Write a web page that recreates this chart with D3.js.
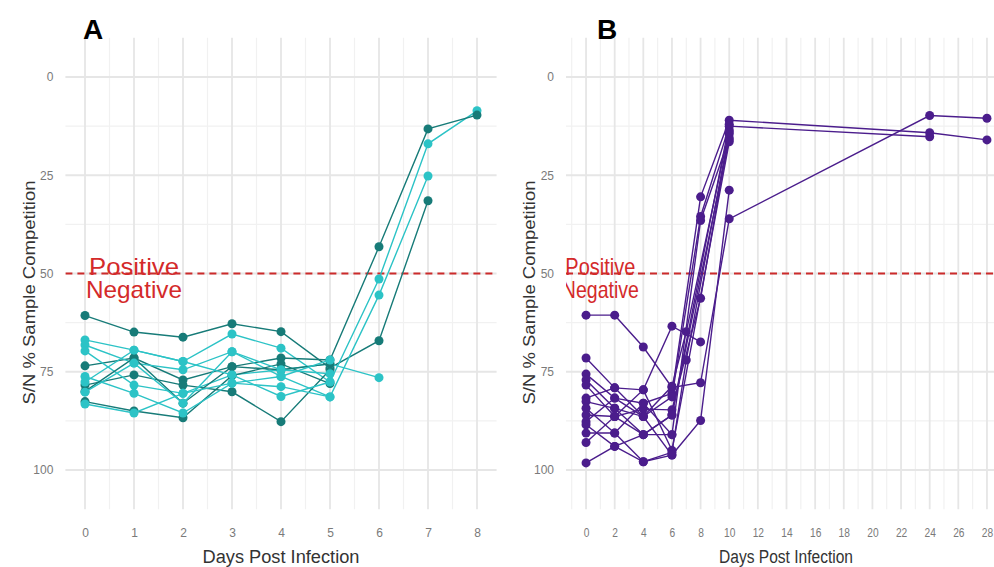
<!DOCTYPE html>
<html>
<head>
<meta charset="utf-8">
<script src="https://cdn.jsdelivr.net/npm/d3@7"></script>
<style>
  body { margin: 0; background: #fff; }
  text { font-family: "Liberation Sans", Arial, sans-serif; }
</style>
</head>
<body>
<div id="chart" style="width:994px;height:567px"></div>
<script>
/* global d3 */

// panel A: days 0..8, one row per animal (null = not sampled)
const daysA = [0, 1, 2, 3, 4, 5, 6, 7, 8];
const darkA = [
    [60.7, 64.9, 66.2, 62.8, 64.8, 74.0, 67.1, 31.5, null],
    [73.5, 71.5, 77.1, 73.7, 71.5, 72.0, 43.2, 13.2, 9.7],
    [78.4, 75.8, 78.4, 80.1, 87.7, 74.5, null, null, null],
    [82.6, 85.0, 86.7, 76.0, 73.0, 78.0, null, null, null],
    [80.0, 71.5, 83.0, 73.7, 74.5, 73.0, null, null, null]
];
const lightA = [
    [66.9, 69.5, 72.4, 65.4, 69.0, 77.6, 51.4, 17.0, 8.6],
    [68.2, 72.8, 74.5, 69.9, 76.2, 81.4, 55.5, 25.2, null],
    [69.7, 78.4, 80.5, 75.8, 74.5, 73.0, 76.5, null, null],
    [76.2, 80.5, 85.5, 77.9, 78.8, 81.4, null, null, null],
    [77.6, 69.5, 72.4, 75.8, 81.3, 77.6, null, null, null],
    [80.2, 72.8, 83.0, 69.9, 74.5, 75.5, null, null, null],
    [83.2, 85.5, 80.5, 77.9, 76.2, 72.0, null, null, null]
];

// panel B: sampling days up to 28
const daysB = [0, 2, 4, 6, 7, 8, 10, 24, 28];
const purpleB = [
    [60.6, 60.6, 68.7, 79.0, null, 77.8, 36.1, 9.8, 10.5],
    [71.5, 79.1, 79.6, 63.4, null, 67.4, null, null, null],
    [75.6, 81.7, 83.0, 80.5, null, 30.5, 11.0, 14.2, 16.0],
    [77.1, 84.3, 86.4, 81.4, null, 35.5, 12.5, 15.2, null],
    [78.4, 86.4, 84.5, 84.7, null, 56.3, 14.5, null, null],
    [81.7, 79.1, 86.4, 78.7, 64.8, null, 13.5, null, null],
    [82.6, 84.3, 91.0, 86.0, null, null, 16.0, null, null],
    [84.3, 90.6, 83.0, 91.0, null, 36.5, 15.5, null, null],
    [86.0, 86.4, 79.6, 95.0, null, null, 16.5, null, null],
    [87.7, 81.7, 86.4, 96.2, null, 87.4, 28.8, null, null],
    [88.5, 94.0, 91.0, 91.0, null, null, null, null, null],
    [90.6, 90.6, 97.9, 95.5, 72.0, null, 14.0, null, null],
    [93.0, 86.4, 91.0, 86.0, null, null, 12.0, null, null],
    [98.2, 94.0, 97.9, 96.2, null, null, null, null, null]
];

const yTicks = [0, 25, 50, 75, 100];
const xTicksA = [0, 1, 2, 3, 4, 5, 6, 7, 8];
const xTicksB = d3.range(0, 29, 2);
const cutoff = 50;

const svg = d3.select('#chart').append('svg')
    .attr('width', 994)
    .attr('height', 567)

let DrawPanel = function (opts) {
    this.opts = opts
    this.g = svg.append('g')
}

DrawPanel.prototype.layout = function (days, groups) {
    const o = this.opts
    const g = this.g

    const xScale = d3.scaleLinear()
        .domain(o.xDomain)
        .range(o.xRange);
    const yScale = d3.scaleLinear()   // reversed: 0 on top
        .domain([-10, 110])
        .range([37.7, 509.3]);

    const clipId = 'clip' + o.letter
    g.append('clipPath').attr('id', clipId)
        .append('rect')
        .attr('x', o.xRange[0]).attr('y', 0)
        .attr('width', o.xRange[1] - o.xRange[0]).attr('height', 567);

    // grid (minor first, then major)
    const grid = g.append('g').attr('class', 'grid');
    grid.selectAll('.vminor').data(o.xMinor).enter()
        .append('line')
        .attr('x1', d => xScale(d)).attr('x2', d => xScale(d))
        .attr('y1', yScale(-10)).attr('y2', yScale(110))
        .attr('stroke', '#f1f1f1').attr('stroke-width', 1.2);
    grid.selectAll('.hminor').data([12.5, 37.5, 62.5, 87.5]).enter()
        .append('line')
        .attr('x1', o.xRange[0]).attr('x2', o.xRange[1])
        .attr('y1', d => yScale(d)).attr('y2', d => yScale(d))
        .attr('stroke', '#f1f1f1').attr('stroke-width', 1.2);
    grid.selectAll('.vmajor').data(o.xTicks).enter()
        .append('line')
        .attr('x1', d => xScale(d)).attr('x2', d => xScale(d))
        .attr('y1', yScale(-10)).attr('y2', yScale(110))
        .attr('stroke', '#e6e6e6').attr('stroke-width', 1.8);
    grid.selectAll('.hmajor').data(yTicks).enter()
        .append('line')
        .attr('x1', o.xRange[0]).attr('x2', o.xRange[1])
        .attr('y1', d => yScale(d)).attr('y2', d => yScale(d))
        .attr('stroke', '#e6e6e6').attr('stroke-width', 1.8);

    // axes, ggplot style: labels only
    const xAxis = d3.axisBottom(xScale)
        .tickValues(o.xTicks)
        .tickSize(0)
        .tickPadding(0);
    const xAxisG = g.append('g')
        .attr('transform', `translate(0,${yScale(110) + 19})`)
        .call(xAxis);
    xAxisG.select('.domain').remove();
    xAxisG.selectAll('text')
        .attr('font-size', 12).attr('fill', '#7a7a7a')
        .attr('font-family', '"Liberation Sans", Arial, sans-serif')
        .attr('transform', `scale(${o.squeeze},1)`);

    const yAxis = d3.axisLeft(yScale)
        .tickValues(yTicks)
        .tickSize(0)
        .tickPadding(0);
    const yAxisG = g.append('g')
        .attr('transform', `translate(${o.xRange[0] - 12},0)`)
        .call(yAxis);
    yAxisG.select('.domain').remove();
    yAxisG.selectAll('text')
        .attr('font-size', 12).attr('fill', '#7a7a7a')
        .attr('font-family', '"Liberation Sans", Arial, sans-serif');

    // titles
    g.append('text')
        .attr('x', o.xTitleX).attr('y', 563)
        .attr('text-anchor', 'middle')
        .attr('font-size', 18).attr('fill', '#333')
        .attr('textLength', o.xTitleLen).attr('lengthAdjust', 'spacingAndGlyphs')
        .text('Days Post Infection');
    g.append('text')
        .attr('transform', `translate(${o.yTitleX},${yScale(50) + 19}) rotate(-90)`)
        .attr('text-anchor', 'middle')
        .attr('font-size', 17).attr('fill', '#333')
        .attr('textLength', 224).attr('lengthAdjust', 'spacingAndGlyphs')
        .text('S/N % Sample Competition');
    g.append('text')
        .attr('x', o.letterX).attr('y', 39)
        .attr('font-size', 28).attr('font-weight', 'bold').attr('fill', '#000')
        .text(o.letter);

    // cut-off line + labels
    const clipped = g.append('g').attr('clip-path', `url(#${clipId})`);
    clipped.append('line')
        .attr('x1', o.xRange[0]).attr('x2', o.xRange[1])
        .attr('y1', yScale(cutoff)).attr('y2', yScale(cutoff))
        .attr('stroke', '#cc2b2b').attr('stroke-width', 2)
        .attr('stroke-dasharray', '7,5');
    clipped.append('text')
        .attr('x', xScale(1)).attr('y', yScale(cutoff) + 1)
        .attr('text-anchor', 'middle')
        .attr('font-size', 24).attr('fill', '#d42a2a')
        .attr('textLength', o.posLen).attr('lengthAdjust', 'spacingAndGlyphs')
        .text('Positive');
    clipped.append('text')
        .attr('x', xScale(1)).attr('y', yScale(cutoff) + 24)
        .attr('text-anchor', 'middle')
        .attr('font-size', 24).attr('fill', '#d42a2a')
        .attr('textLength', o.negLen).attr('lengthAdjust', 'spacingAndGlyphs')
        .text('Negative');

    // series: lines then dots, per animal
    const line = d3.line()
        .x(d => xScale(d[0]))
        .y(d => yScale(d[1]));

    const series = [];
    groups.forEach(grp => {
        grp.rows.forEach((row, i) => {
            const pts = days.map((day, j) => [day, row[j]]).filter(p => p[1] != null);
            series.push({ color: grp.color, pts: pts, order: i });
        });
    });
    series.sort((a, b) => a.order - b.order);

    const sg = clipped.append('g').selectAll('g').data(series).enter().append('g');
    sg.append('path')
        .attr('d', d => line(d.pts))
        .attr('fill', 'none')
        .attr('stroke', d => d.color)
        .attr('stroke-width', 1.4);
    sg.selectAll('circle').data(d => d.pts.map(p => ({ p: p, color: d.color }))).enter()
        .append('circle')
        .attr('cx', d => xScale(d.p[0]))
        .attr('cy', d => yScale(d.p[1]))
        .attr('r', 4.5)
        .attr('fill', d => d.color);
}

new DrawPanel({
    letter: 'A', letterX: 83,
    xDomain: [-0.4, 8.4], xRange: [65.4, 496.6],
    xTicks: xTicksA, xMinor: d3.range(0.5, 8, 1),
    squeeze: 1,
    xTitleX: 281, xTitleLen: 157, yTitleX: 35,
    posLen: 90, negLen: 96
}).layout(daysA, [
    { color: '#177b78', rows: darkA },
    { color: '#2cc3c6', rows: lightA }
]);

new DrawPanel({
    letter: 'B', letterX: 597,
    xDomain: [-1.4, 29.4], xRange: [566, 1007],
    xTicks: xTicksB, xMinor: d3.range(-1, 30, 2),
    squeeze: 0.85,
    xTitleX: 786, xTitleLen: 134, yTitleX: 535,
    posLen: 70, negLen: 77
}).layout(daysB, [
    { color: '#4b1d8c', rows: purpleB }
]);
</script>
</body>
</html>
